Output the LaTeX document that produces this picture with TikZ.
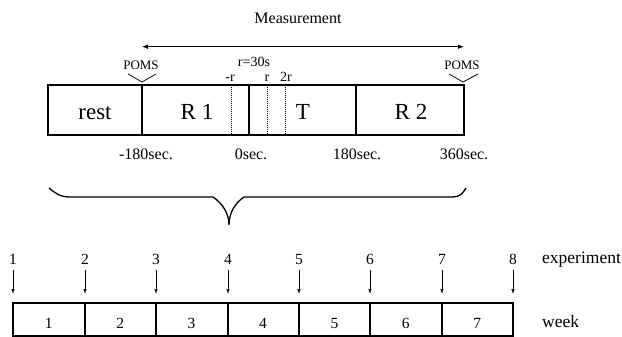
\documentclass[tikz,border=0pt]{standalone}
\usepackage{fontspec}
\setmainfont{Liberation Serif}
\usetikzlibrary{arrows.meta}
\begin{document}
\begin{tikzpicture}[x=1pt,y=-1pt,
  lbl/.style={inner sep=0pt, anchor=base},
  big/.style={lbl, font=\fontsize{23}{27}\selectfont},
  mid/.style={lbl, font=\fontsize{16}{19}\selectfont},
  side/.style={lbl, anchor=base west, font=\fontsize{17.5}{20}\selectfont},
  num/.style={lbl, font=\fontsize{15.5}{18}\selectfont},
  sml/.style={lbl, font=\fontsize{14}{16}\selectfont},
  tiny/.style={lbl, font=\fontsize{13}{15}\selectfont},
  boxline/.style={line width=2pt},
  dotline/.style={line width=0.9pt, dash pattern=on 1pt off 1pt},
  thin/.style={line width=0.8pt},
  measarrow/.style={line width=0.8pt, {Latex[length=6pt,width=4.5pt]}-{Latex[length=6pt,width=4.5pt]}},
  exparrow/.style={line width=0.7pt, -{Latex[length=5pt,width=3.5pt]}},
  bracestyle/.style={line width=1.3pt}
]
\useasboundingbox (0,0) rectangle (622,337);

% Measurement arrow
\node[mid] (meas) at (298,23.3) {Measurement};
\coordinate (mL) at (142,46.7);
\coordinate (mR) at (464,46.7);
\draw[measarrow] (mL) -- (mR);

% top box
\coordinate (t0) at (48,85);
\coordinate (t4) at (464,135);
\draw[boxline] (t0) rectangle (t4);
\foreach \x/\n in {142/a,249/b,356/c}{
  \coordinate (d\n top) at (\x,85);
  \coordinate (d\n bot) at (\x,135);
  \draw[boxline] (d\n top) -- (d\n bot);
}
\foreach \x/\n in {231/a,267/b,285/c}{
  \coordinate (r\n top) at (\x,85);
  \coordinate (r\n bot) at (\x,135);
  \draw[dotline] (r\n top) -- (r\n bot);
}

% POMS markers
\node[tiny] (poms1) at (141,70) {POMS};
\node[tiny] (poms2) at (462,70) {POMS};
\coordinate (p1a) at (128,74); \coordinate (p1b) at (142,82); \coordinate (p1c) at (156,74);
\draw[thin] (p1a) -- (p1b) -- (p1c);
\coordinate (p2a) at (449,74); \coordinate (p2b) at (463,82); \coordinate (p2c) at (478,74);
\draw[thin] (p2a) -- (p2b) -- (p2c);

% r labels
\node[sml] (rr) at (254,66.5) {r=30s};
\node[sml] (rm) at (230,81.7) {-r};
\node[sml] (r1) at (267,81.7) {r};
\node[sml] (r2) at (286,81.7) {2r};

% segment labels
\node[big] (rest) at (95,119.3) {rest};
\node[big] (R1) at (197,119.3) {R 1};
\node[big] (T) at (303,119.3) {T};
\node[big] (R2) at (411,119.3) {R 2};

% time labels
\node[mid] (tm180) at (146,159.3) {-180sec.};
\node[mid] (t0s) at (251,159.3) {0sec.};
\node[mid] (t180) at (357,159.3) {180sec.};
\node[mid] (t360) at (464,159.3) {360sec.};

% brace
\coordinate (bL) at (49,188);
\coordinate (bR) at (466,188);
\coordinate (bTip) at (229,225);
\draw[bracestyle] (bL) .. controls (55,193) and (60,197) .. (70,197) -- (213,197)
  .. controls (222,203) and (229,213) .. (bTip)
  .. controls (229,213) and (235,203) .. (244,197) -- (453,197)
  .. controls (460,197) and (463,193) .. (bR);

% bottom box
\coordinate (b0) at (13,303);
\coordinate (b7) at (513,336);
\draw[boxline] (b0) rectangle (b7);
\foreach \x [count=\i] in {85,156,228,299,370,442}{
  \coordinate (w\i top) at (\x,303);
  \coordinate (w\i bot) at (\x,336);
  \draw[boxline] (w\i top) -- (w\i bot);
}
\foreach \i in {1,...,7}{
  \node[num] (wk\i) at ({13+71.43*(\i-0.5)},328.3) {\i};
}
\foreach \x [count=\i] in {13,85,156,228,299,370,442,513}{
  \node[num] (ex\i) at (\x,264.3) {\i};
  \coordinate (ea\i) at (\x,270);
  \coordinate (eb\i) at (\x,294);
  \draw[exparrow] (ea\i) -- (eb\i);
}
\node[side] (expl) at (542,263.5) {experiment};
\node[side] (weekl) at (542,327) {week};
\end{tikzpicture}
\end{document}
